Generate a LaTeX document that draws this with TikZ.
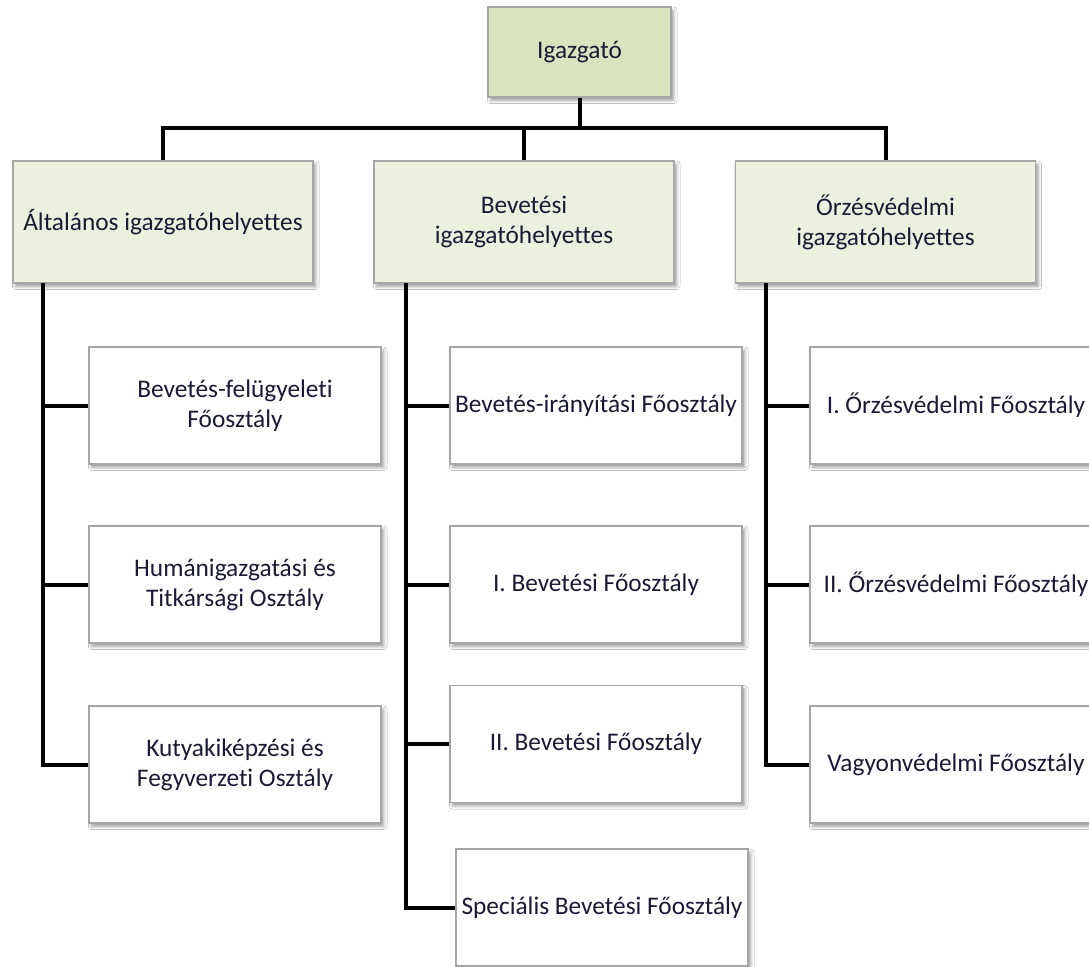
\documentclass[tikz,border=0pt]{standalone}
\usepackage{fontspec}
\setmainfont[Ligatures=NoCommon]{Carlito}
\usetikzlibrary{shadows.blur}
\definecolor{topfill}{HTML}{D7E4BD}
\definecolor{midfill}{HTML}{EBF1DE}
\definecolor{boxline}{HTML}{A6A6A6}
\definecolor{txt}{HTML}{1A1A36}
\tikzset{
  box/.style={draw=boxline, line width=1pt, inner sep=0pt, align=center,
    font=\fontsize{19}{22.5}\selectfont, text=txt,
    blur shadow={shadow xshift=2pt, shadow yshift=-2.5pt, shadow blur radius=2.5pt, shadow opacity=40}},
  topbox/.style={box, fill=topfill, minimum width=137.25pt, minimum height=67.5pt},
  midbox/.style={box, fill=midfill, minimum width=225pt, minimum height=91.5pt},
  unitbox/.style={box, fill=white, minimum width=219pt, minimum height=87.75pt},
  conn/.style={draw=black, line width=3pt, line join=miter}
}
\begin{document}
\begin{tikzpicture}[x=0.75pt,y=-0.75pt]
\clip (0,0) rectangle (1089,967);
\fill[white] (0,0) rectangle (1089,967);
% nodes
\node[topbox] (top) at (579.5,52) {Igazgató};
\node[midbox] (a) at (163,222) {Általános igazgatóhelyettes};
\node[midbox] (b) at (524,222) {Bevetési\\igazgatóhelyettes};
\node[midbox] (c) at (885.5,222) {Őrzésvédelmi\\igazgatóhelyettes};
\node[unitbox] (a1) at (235,405.5) {Bevetés-felügyeleti\\Főosztály};
\node[unitbox] (a2) at (235,584.5) {Humánigazgatási és\\Titkársági Osztály};
\node[unitbox] (a3) at (235,764.5) {Kutyakiképzési és\\Fegyverzeti Osztály};
\node[unitbox] (b1) at (596,405.5) {Bevetés-irányítási Főosztály};
\node[unitbox] (b2) at (596,584.5) {I. Bevetési Főosztály};
\node[unitbox] (b3) at (596,744) {II. Bevetési Főosztály};
\node[unitbox] (b4) at (602,907.5) {Speciális Bevetési Főosztály};
\node[unitbox] (c1) at (956,405.5) {I. Őrzésvédelmi Főosztály};
\node[unitbox] (c2) at (956,584.5) {II. Őrzésvédelmi Főosztály};
\node[unitbox] (c3) at (956,764.5) {Vagyonvédelmi Főosztály};
% connectors
\coordinate (bus) at (579.5,128);
\draw[conn] (top.south) -- (bus);
\draw[conn] (a.north) |- (bus) -| (c.north);
\draw[conn] (b.north) -- (b.north |- bus);
\coordinate (ta) at (43,283);
\coordinate (tb) at (406,283);
\coordinate (tc) at (766,283);
\draw[conn] (ta) |- (a3.west);
\draw[conn] (ta |- a1.west) -- (a1.west);
\draw[conn] (ta |- a2.west) -- (a2.west);
\draw[conn] (tb) |- (b4.west);
\draw[conn] (tb |- b1.west) -- (b1.west);
\draw[conn] (tb |- b2.west) -- (b2.west);
\draw[conn] (tb |- b3.west) -- (b3.west);
\draw[conn] (tc) |- (c3.west);
\draw[conn] (tc |- c1.west) -- (c1.west);
\draw[conn] (tc |- c2.west) -- (c2.west);
\end{tikzpicture}
\end{document}
